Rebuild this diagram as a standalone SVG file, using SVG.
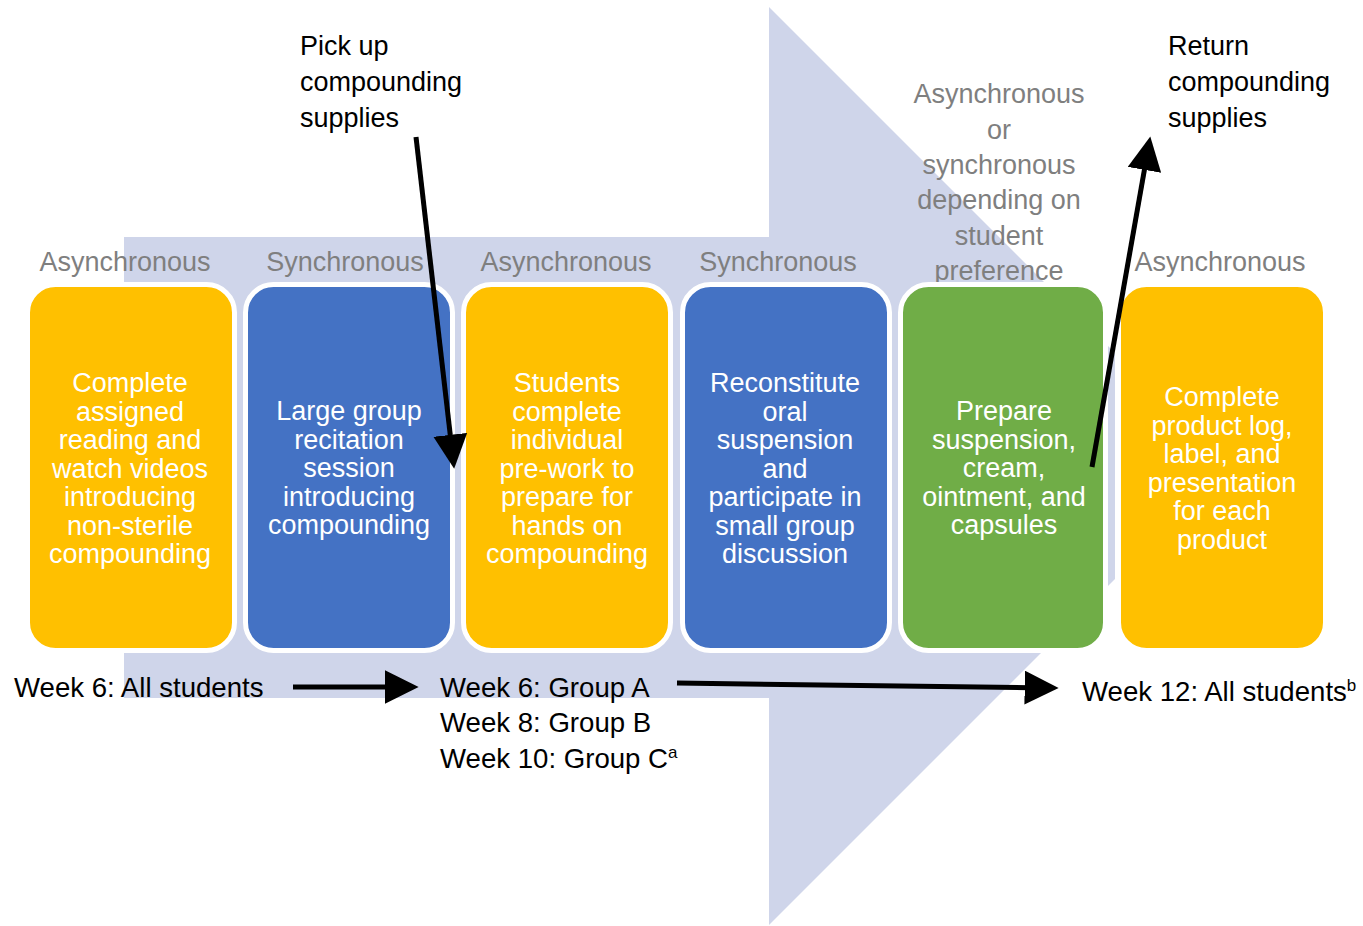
<svg xmlns="http://www.w3.org/2000/svg" width="1363" height="926" viewBox="0 0 1363 926">
  <style>
    text { font-family: "Liberation Sans", Arial, sans-serif; font-size: 27px; }
    .phase { fill: #7f7f7f; text-anchor: middle; }
    .body { fill: #ffffff; text-anchor: middle; }
    .note { fill: #000000; }
    .wide { font-size: 27.6px; }
    .box { stroke: #ffffff; stroke-width: 5; }
    .yellow { fill: #ffc000; }
    .blue { fill: #4472c4; }
    .green { fill: #70ad47; }
    .conn { stroke: #000000; stroke-width: 5; fill: none; marker-end: url(#head); }
    .sup { font-size: 17px; }
  </style>
  <defs>
    <marker id="head" markerUnits="userSpaceOnUse" markerWidth="34" markerHeight="34" viewBox="0 0 32 32" refX="6" refY="16" orient="auto">
      <path d="M0,0 L32,16 L0,32 Z" fill="#000000"/>
    </marker>
  </defs>

  <rect width="1363" height="926" fill="#ffffff"/>

  <!-- broad background arrow, its point trimmed on the right -->
  <polygon id="backdrop-arrow" points="124,237 769,237 769,7 1115,353 1115,579 769,925 769,698 124,698" fill="#cfd5ea"/>

  <!-- phase headers -->
  <g id="headers">
    <text class="phase" x="125" y="271">Asynchronous</text>
    <text class="phase" x="345" y="271">Synchronous</text>
    <text class="phase" x="566" y="271">Asynchronous</text>
    <text class="phase" x="778" y="271">Synchronous</text>
    <text class="phase"><tspan x="999" y="103">Asynchronous</tspan><tspan x="999" y="138.5">or</tspan><tspan x="999" y="174">synchronous</tspan><tspan x="999" y="209">depending on</tspan><tspan x="999" y="245">student</tspan><tspan x="999" y="280">preference</tspan></text>
    <text class="phase" x="1220" y="271">Asynchronous</text>
  </g>

  <g id="step1">
    <rect class="box yellow" x="27.5" y="284.5" width="207" height="366" rx="28"/>
    <text class="body"><tspan x="130" y="392">Complete</tspan><tspan x="130" y="420.5">assigned</tspan><tspan x="130" y="449">reading and</tspan><tspan x="130" y="477.5">watch videos</tspan><tspan x="130" y="506">introducing</tspan><tspan x="130" y="534.5">non-sterile</tspan><tspan x="130" y="563">compounding</tspan></text>
  </g>

  <g id="step2">
    <rect class="box blue" x="245.5" y="284.5" width="207" height="366" rx="28"/>
    <text class="body"><tspan x="349" y="420">Large group</tspan><tspan x="349" y="448.5">recitation</tspan><tspan x="349" y="477">session</tspan><tspan x="349" y="505.5">introducing</tspan><tspan x="349" y="534">compounding</tspan></text>
  </g>

  <g id="step3">
    <rect class="box yellow" x="463.5" y="284.5" width="207" height="366" rx="28"/>
    <text class="body"><tspan x="567" y="392">Students</tspan><tspan x="567" y="420.5">complete</tspan><tspan x="567" y="449">individual</tspan><tspan x="567" y="477.5">pre-work to</tspan><tspan x="567" y="506">prepare for</tspan><tspan x="567" y="534.5">hands on</tspan><tspan x="567" y="563">compounding</tspan></text>
  </g>

  <g id="step4">
    <rect class="box blue" x="682.5" y="284.5" width="207" height="366" rx="28"/>
    <text class="body"><tspan x="785" y="392">Reconstitute</tspan><tspan x="785" y="420.5">oral</tspan><tspan x="785" y="449">suspension</tspan><tspan x="785" y="477.5">and</tspan><tspan x="785" y="506">participate in</tspan><tspan x="785" y="534.5">small group</tspan><tspan x="785" y="563">discussion</tspan></text>
  </g>

  <g id="step5">
    <rect class="box green" x="900.5" y="284.5" width="205" height="366" rx="28"/>
    <text class="body"><tspan x="1004" y="420">Prepare</tspan><tspan x="1004" y="448.5">suspension,</tspan><tspan x="1004" y="477">cream,</tspan><tspan x="1004" y="505.5">ointment, and</tspan><tspan x="1004" y="534">capsules</tspan></text>
  </g>

  <g id="step6">
    <rect class="box yellow" x="1118.5" y="284.5" width="207" height="366" rx="28"/>
    <text class="body"><tspan x="1222" y="406">Complete</tspan><tspan x="1222" y="434.5">product log,</tspan><tspan x="1222" y="463">label, and</tspan><tspan x="1222" y="491.5">presentation</tspan><tspan x="1222" y="520">for each</tspan><tspan x="1222" y="548.5">product</tspan></text>
  </g>

  <g id="pickup-note">
    <text class="note"><tspan x="300" y="55">Pick up</tspan><tspan x="300" y="91">compounding</tspan><tspan x="300" y="127">supplies</tspan></text>
  </g>

  <g id="return-note">
    <text class="note"><tspan x="1168" y="55">Return</tspan><tspan x="1168" y="91">compounding</tspan><tspan x="1168" y="127">supplies</tspan></text>
  </g>

  <g id="schedule-all">
    <text class="note wide" x="14" y="697">Week 6: All students</text>
  </g>

  <g id="schedule-groups">
    <text class="note wide"><tspan x="440" y="697">Week 6: Group A</tspan><tspan x="440" y="732">Week 8: Group B</tspan><tspan x="440" y="768">Week 10: Group C</tspan><tspan class="sup" dy="-10">a</tspan></text>
  </g>

  <g id="schedule-final">
    <text class="note wide" x="1082" y="701">Week 12: All students<tspan class="sup" dy="-10">b</tspan></text>
  </g>

  <!-- connectors -->
  <g id="connectors">
    <line class="conn" x1="293" y1="687" x2="391" y2="687"/>
    <line class="conn" x1="677" y1="683" x2="1031" y2="687.7"/>
    <line class="conn" x1="416" y1="137" x2="451" y2="441.2"/>
    <line class="conn" x1="1092" y1="467" x2="1145.5" y2="163.6"/>
  </g>
</svg>
